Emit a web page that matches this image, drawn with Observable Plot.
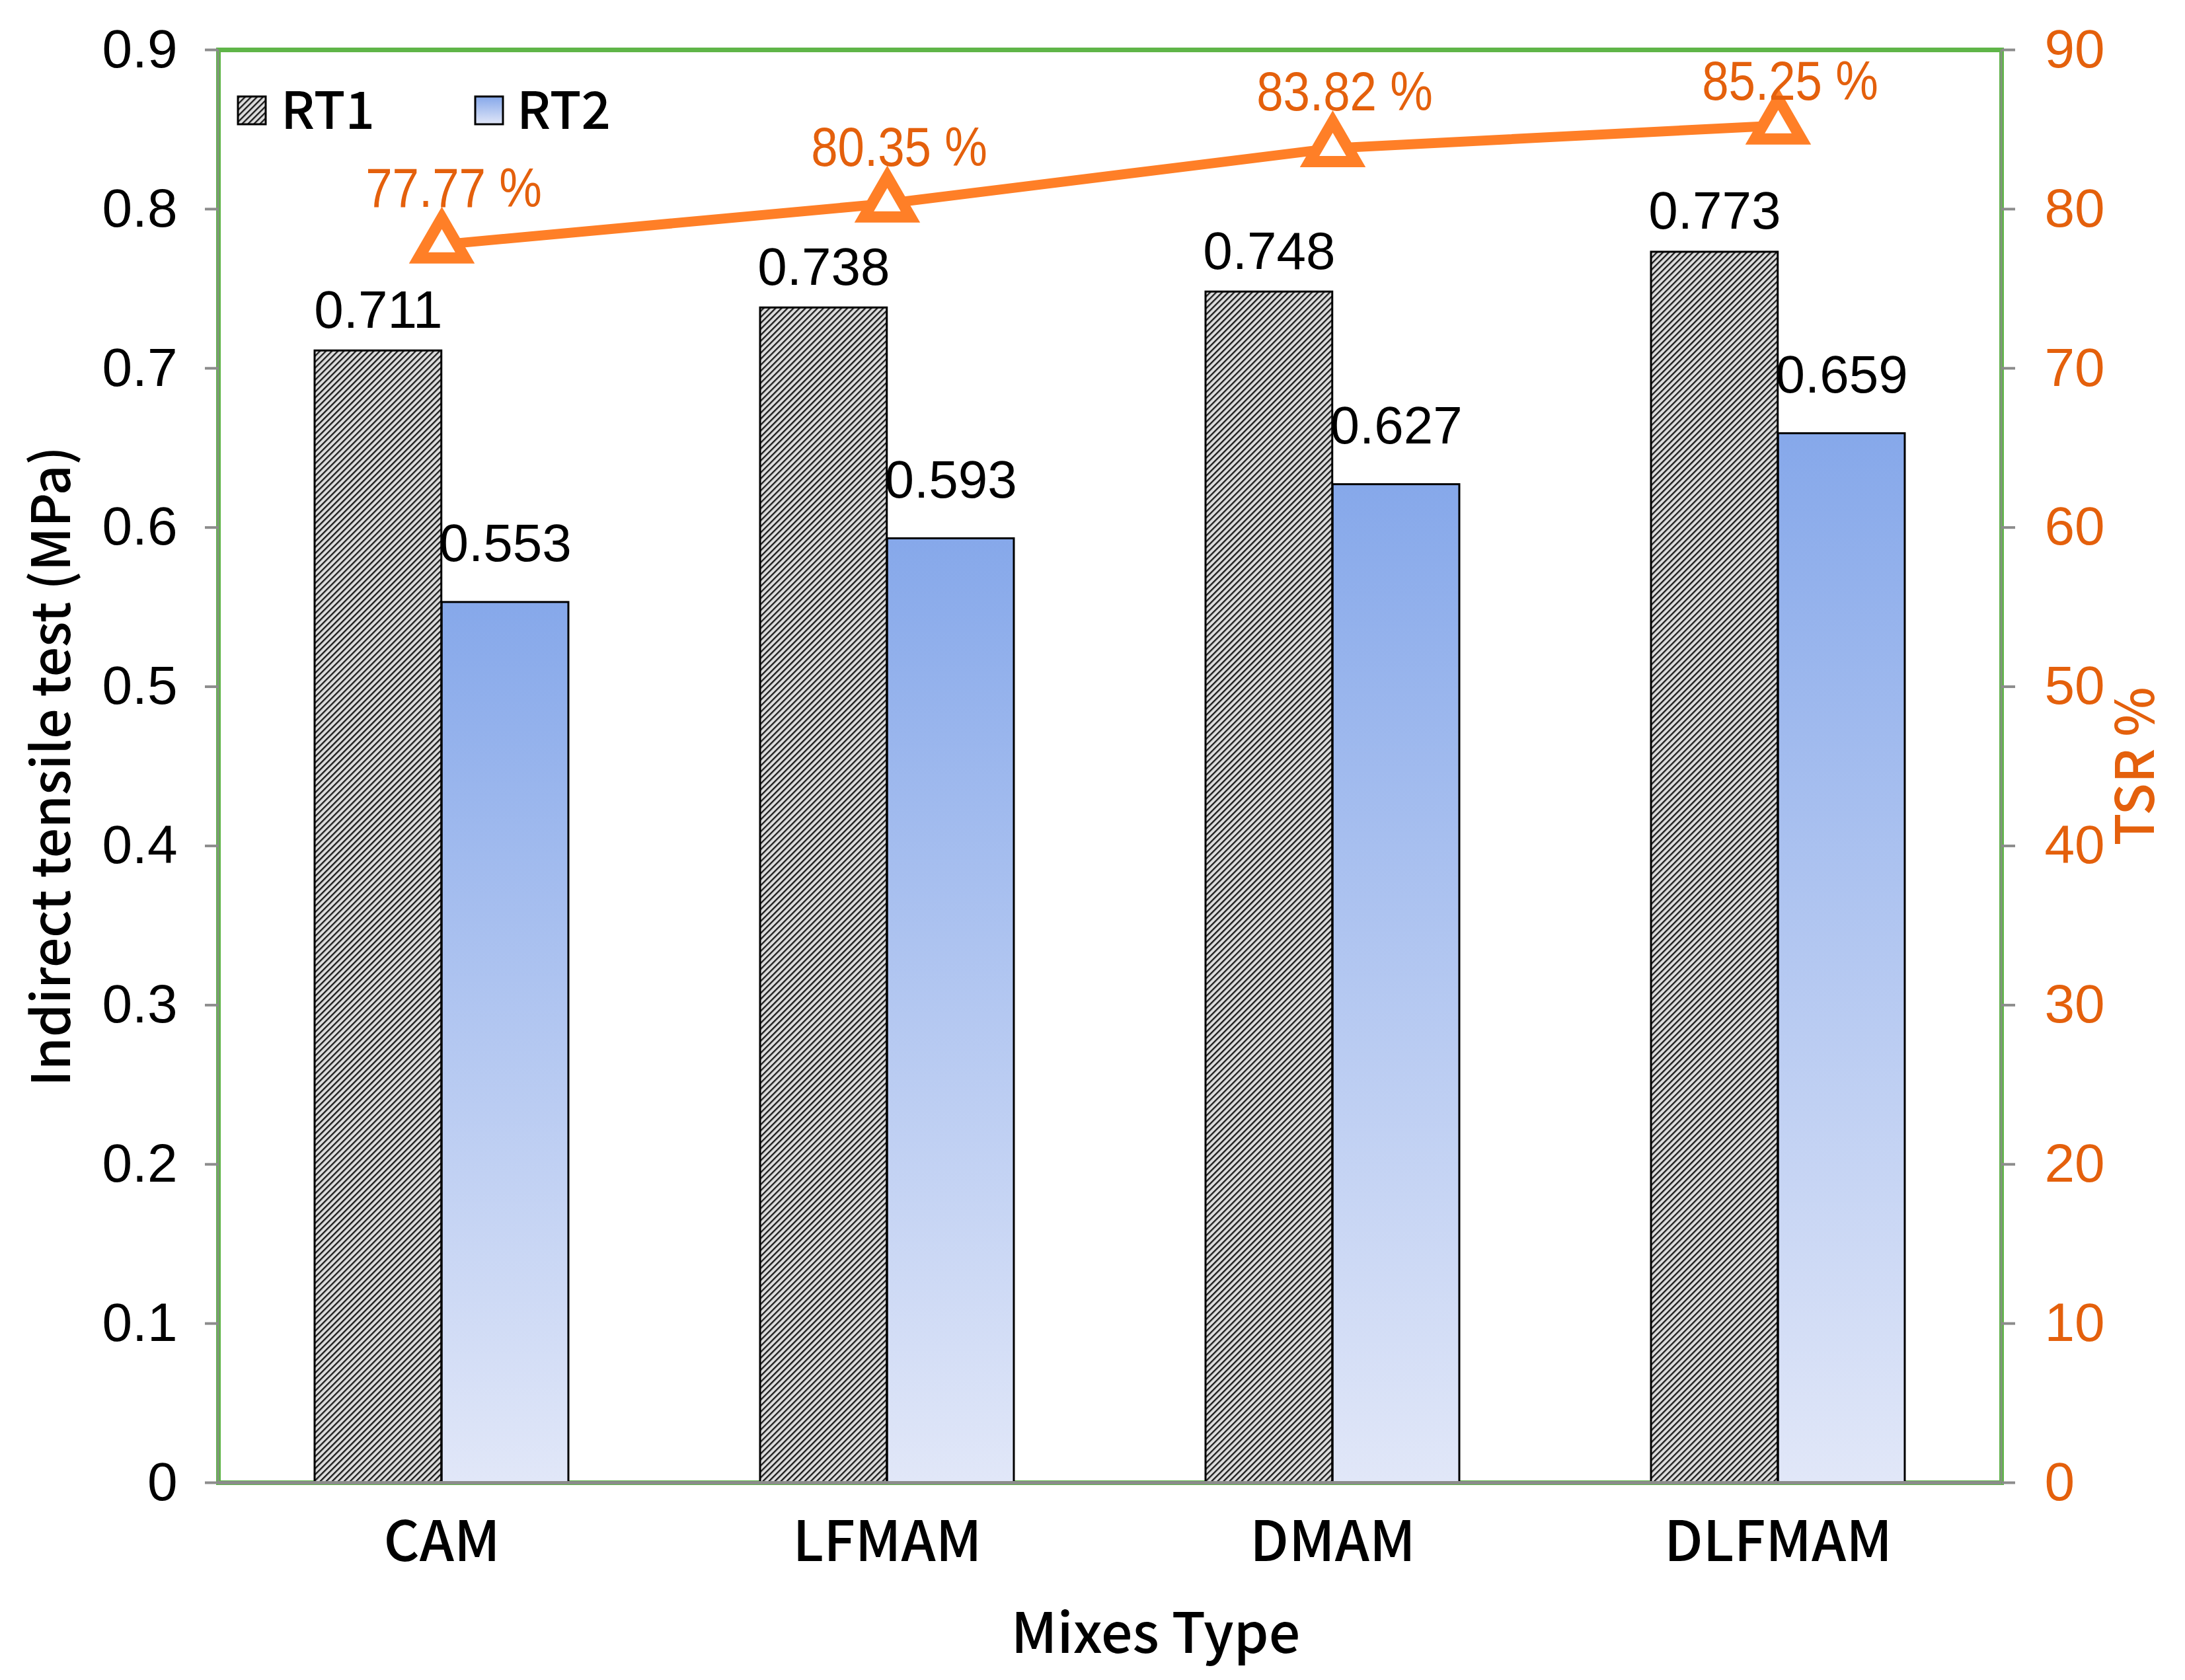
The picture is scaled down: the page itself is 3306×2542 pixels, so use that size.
<!DOCTYPE html>
<html>
<head>
<meta charset="utf-8">
<script src="https://cdn.jsdelivr.net/npm/d3@7"></script>
<script src="https://cdn.jsdelivr.net/npm/@observablehq/plot@0.6"></script>
<style>
  body { margin: 0; background: white; }
</style>
</head>
<body>
<div id="chart"></div>
<script>
const mixes = ["CAM", "LFMAM", "DMAM", "DLFMAM"];
const rt1 = [0.711, 0.738, 0.748, 0.773];
const rt2 = [0.553, 0.593, 0.627, 0.659];
const tsr = [77.77, 80.35, 83.82, 85.25];
const leftTicks = [0, 0.1, 0.2, 0.3, 0.4, 0.5, 0.6, 0.7, 0.8, 0.9];
const rightTicks = [0, 10, 20, 30, 40, 50, 60, 70, 80, 90];

const W = 3306, H = 2542;
const mL = 330, mR = 278, mT = 75, mB = 299;
const band = (W - mL - mR) / mixes.length;
const barW = band * 0.285;
const half = band / 2;

const orange = "#FF7F27";
const orangeText = "#E4600C";
const gray = "#8C8C8C";
const green = "#5FB548";
const cjk = "Noto Sans CJK SC";

const rows1 = mixes.map((m, i) => ({mix: m, v: rt1[i]}));
const rows2 = mixes.map((m, i) => ({mix: m, v: rt2[i]}));
const rowsT = mixes.map((m, i) => ({mix: m, v: tsr[i] / 100, t: tsr[i]}));

let chart = Plot.plot({
  width: W,
  height: H,
  marginLeft: mL,
  marginRight: mR,
  marginTop: mT,
  marginBottom: mB,
  style: {fontFamily: "Liberation Sans", fontSize: "80px", background: "white"},
  x: {domain: mixes, padding: 0, axis: null},
  y: {domain: [0, 0.9], axis: null},
  marks: [
    Plot.frame({stroke: green, strokeWidth: 7}),
    Plot.barY(rows1, {x: "mix", y: "v", fill: "url(#hatch)", stroke: "black", strokeWidth: 3,
      insetLeft: half - barW, insetRight: half}),
    Plot.barY(rows2, {x: "mix", y: "v", fill: "url(#blueGrad)", stroke: "black", strokeWidth: 3,
      insetLeft: half, insetRight: half - barW}),
    Plot.ruleY([0], {stroke: gray, strokeWidth: 5}),
    Plot.text(rows1, {x: "mix", y: "v", text: d => d.v.toFixed(3), dx: -barW / 2, dy: -35,
      lineAnchor: "bottom", fontSize: 80, fill: "black"}),
    Plot.text(rows2, {x: "mix", y: "v", text: d => d.v.toFixed(3), dx: barW / 2, dy: -62,
      lineAnchor: "bottom", fontSize: 80, fill: "black"}),
    Plot.line(rowsT, {x: "mix", y: "v", stroke: orange, strokeWidth: 15}),
    Plot.dot(rowsT, {x: "mix", y: "v", symbol: "triangle", r: 26, stroke: orange, strokeWidth: 17,
      fill: "white", strokeLinejoin: "miter"}),
    // labels are kept inside the plot area, as the spreadsheet does
    Plot.text(rowsT, {x: "mix", y: d => Math.min(d.v, 0.845), text: d => d.t.toFixed(2) + " %", dx: 18, dy: -57,
      lineAnchor: "bottom", fontSize: 84, fill: orangeText, className: "narrow"}),
    Plot.axisY(leftTicks, {anchor: "left", label: null, tickSize: 20, tickPadding: 42,
      stroke: gray, strokeWidth: 4, fill: "black", fontSize: 82,
      tickFormat: d => d === 0 ? "0" : d.toFixed(1)}),
    Plot.axisY(rightTicks.map(d => d / 100), {anchor: "right", label: null, tickSize: 20, tickPadding: 45,
      stroke: gray, strokeWidth: 4, fill: orangeText, fontSize: 82,
      tickFormat: d => String(Math.round(d * 100))}),
    Plot.axisX({label: null, tickSize: 0, tickPadding: 59, fontSize: 84, fontFamily: cjk, fontWeight: 500,
      fill: "black"}),
    Plot.text(["Mixes Type"], {frameAnchor: "bottom", dx: 69, dy: 257, lineAnchor: "bottom",
      fontSize: 84, fontFamily: cjk, fontWeight: 500, fill: "black"}),
    Plot.text(["Indirect tensile test (MPa)"], {frameAnchor: "left", dx: -250, rotate: -90,
      textAnchor: "middle", lineAnchor: "middle", fontSize: 80, fontFamily: cjk, fontWeight: 500, fill: "black"}),
    Plot.text(["TSR %"], {frameAnchor: "right", dx: 205, rotate: -90,
      textAnchor: "middle", lineAnchor: "middle", fontSize: 80, fontFamily: cjk, fontWeight: 500, fill: orangeText})
  ]
});

const svg = d3.select(chart);

// patterns and gradient for the bars
const defs = svg.insert("defs", ":first-child");
const hatch = defs.append("pattern")
  .attr("id", "hatch")
  .attr("patternUnits", "userSpaceOnUse")
  .attr("width", 6.4)
  .attr("height", 6.4)
  .attr("patternTransform", "rotate(45)");
hatch.append("rect").attr("width", 6.4).attr("height", 6.4).attr("fill", "#DCDCDC");
hatch.append("rect").attr("width", 2.3).attr("height", 6.4).attr("fill", "#1a1a1a");

const grad = defs.append("linearGradient")
  .attr("id", "blueGrad")
  .attr("x1", 0).attr("y1", 0).attr("x2", 0).attr("y2", 1);
grad.append("stop").attr("offset", "0%").attr("stop-color", "#86A8EA");
grad.append("stop").attr("offset", "100%").attr("stop-color", "#E1E7F8");

// gray value-axis lines on both sides of the frame
[mL, W - mR].forEach(x => {
  svg.append("line")
    .attr("x1", x).attr("x2", x).attr("y1", mT).attr("y2", H - mB)
    .attr("stroke", gray).attr("stroke-width", 3).attr("stroke-opacity", 0.8);
});

// legend inside the plot area
const legend = svg.append("g").attr("font-family", cjk).attr("font-size", 78)
  .attr("font-weight", 500).attr("text-anchor", "start");
[["RT1", "url(#hatch)", 360, 425], ["RT2", "url(#blueGrad)", 719, 782]].forEach(([name, fill, sx, tx]) => {
  legend.append("rect").attr("x", sx).attr("y", 146).attr("width", 42).attr("height", 42)
    .attr("fill", fill).attr("stroke", "black").attr("stroke-width", 3);
  legend.append("text").attr("x", tx).attr("y", 195).attr("fill", "black").text(name);
});

d3.select('#chart').append(() => chart);

// the TSR labels are set in a condensed face in the original
svg.selectAll(".narrow text").each(function () {
  const w = this.getComputedTextLength();
  d3.select(this).attr("textLength", w * 0.865).attr("lengthAdjust", "spacingAndGlyphs");
});
</script>
</body>
</html>
